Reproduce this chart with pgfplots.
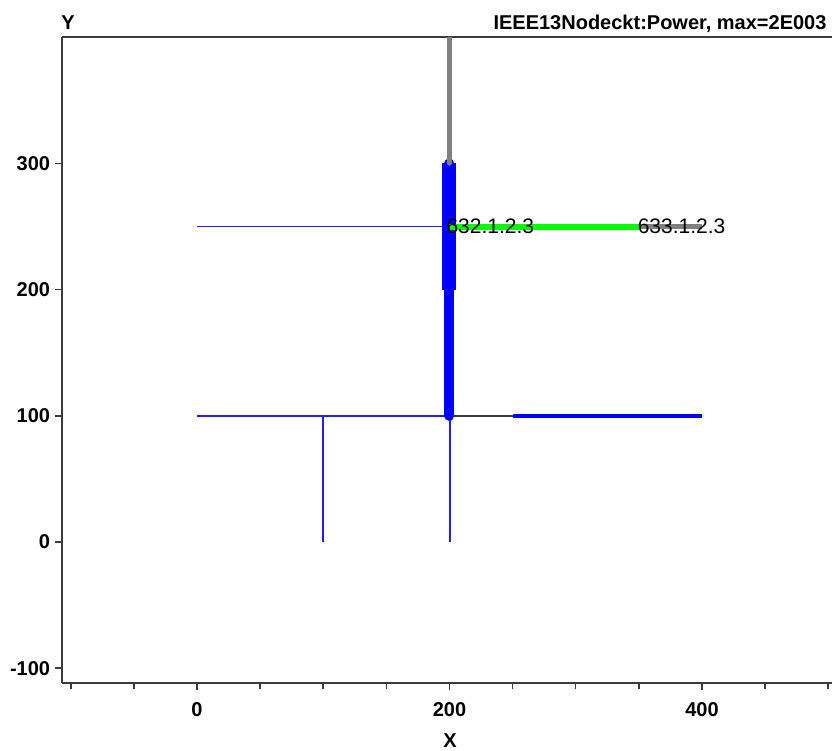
\documentclass[border=0pt]{standalone}
\usepackage{pgfplots}
\pgfplotsset{compat=1.18}
\usepackage{fontspec}
\setmainfont{Liberation Sans}

\definecolor{thinblue}{RGB}{30,30,255}
\definecolor{axgray}{RGB}{60,60,60}
\definecolor{feedgray}{RGB}{128,128,128}
\definecolor{flowgreen}{RGB}{0,255,0}

\begin{document}
\begin{tikzpicture}[x=1pt,y=1pt]
  \path[use as bounding box] (0,0) rectangle (832,751);
  \begin{axis}[
      at={(62.3pt,67.7pt)}, anchor=south west,
      scale only axis,
      width=769.7pt, height=646pt,
      xmin=-106.7, xmax=503,
      ymin=-112, ymax=400,
      axis x line=box, axis y line=left,
      axis line style={-, axgray, line width=1.8pt},
      xtick pos=bottom, ytick pos=left,
      tick align=outside,
      major tick length=7pt, minor tick length=6pt,
      every tick/.style={axgray, line width=1.5pt},
      xtick={0,200,400}, xticklabels={0,200,400},
      minor xtick={-100,-50,50,100,150,250,300,350,450,500},
      ytick={-100,0,100,200,300}, yticklabels={-100,0,100,200,300},
      ticklabel style={font=\bfseries\fontsize{20}{24}\selectfont},
      yticklabel style={anchor=east, inner sep=0pt, xshift=-5pt},
      xticklabel style={anchor=north, inner sep=0pt, yshift=-12pt},
      no markers,
    ]
    % thin lines
    \addplot[color=thinblue, line width=1.7pt] coordinates {(0,250) (200,250)};
    \addplot[color=thinblue, line width=1.7pt] coordinates {(0,100) (200,100)};
    \addplot[color=thinblue, line width=1.7pt] coordinates {(100,0) (100,100)};
    \addplot[color=thinblue, line width=2pt] coordinates {(200.2,0) (200.2,100)};
    \addplot[color=axgray, line width=1.6pt] coordinates {(200,100) (250,100)};
    % heavy flows
    \addplot[color=blue, line width=3.5pt] coordinates {(250,100) (400,100)};
    \addplot[color=blue, line width=14pt] coordinates {(200,300) (200,200)};
    \addplot[color=blue, line width=10pt, line cap=round] coordinates {(200,300) (200,100)};
    \addplot[color=feedgray, line width=4.5pt, line cap=round] coordinates {(200,300) (200,400)};
    \addplot[color=feedgray, line width=4.5pt] coordinates {(350,250) (400,250)};
    \addplot[color=flowgreen, line width=6pt] coordinates {(200,250) (350,250)};
    \node[anchor=west, inner sep=0pt, font=\fontsize{21}{25}\selectfont] at (axis cs:197.5,250) {632.1.2.3};
    \node[anchor=west, inner sep=0pt, font=\fontsize{21}{25}\selectfont] at (axis cs:349,250) {633.1.2.3};
  \end{axis}
  \node[anchor=base, inner sep=0pt, font=\bfseries\fontsize{20}{24}\selectfont] at (68,721.7) {Y};
  \node[anchor=base east, inner sep=0pt, font=\bfseries\fontsize{20}{24}\selectfont] at (826.7,721) {IEEE13Nodeckt:Power, max=2E003};
  \node[anchor=base, inner sep=0pt, font=\bfseries\fontsize{20}{24}\selectfont] at (450,3) {X};
\end{tikzpicture}
\end{document}
